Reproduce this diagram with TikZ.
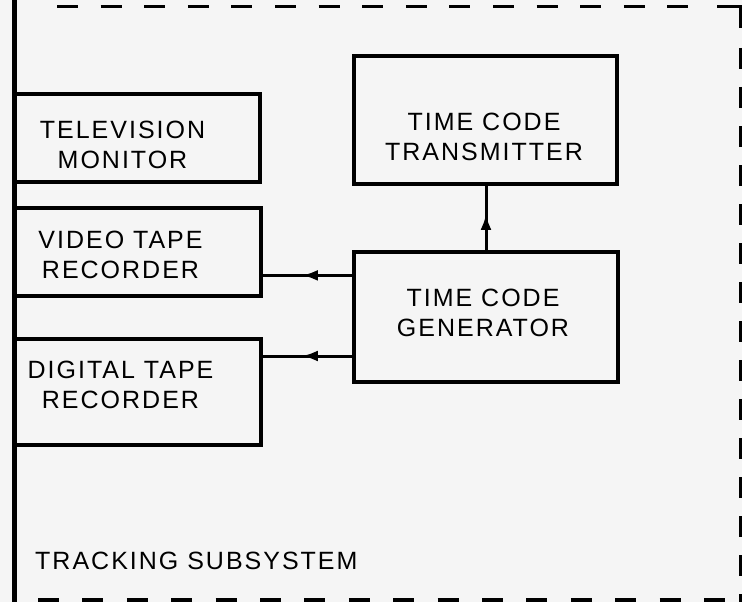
\documentclass[tikz,border=0pt]{standalone}
\usepackage{fontspec}
\setmainfont{Liberation Sans}[LetterSpace=8]
\usetikzlibrary{arrows.meta, calc}
\usetikzlibrary{decorations.markings}

\begin{document}
\begin{tikzpicture}[x=1pt, y=-1pt, >={Latex[length=16pt,width=11pt]},
	font=\fontsize{25}{30}\selectfont,
	box/.style={draw, line width=3.2pt, outer sep=0pt, inner sep=0pt},
	txt/.style={align=center, inner sep=0pt},
	flow/.style={line width=3pt, postaction={decorate},
		decoration={markings, mark=at position 0.56 with {\arrow{>}}}},
	frame/.style={line width=3pt, dash pattern=on 21pt off 22.6pt}]

% scanned sheet
\fill[black!4] (0,0) rectangle (742,602);
\useasboundingbox (0,0) rectangle (742,602);

% ================= Left: monitor and recorders =================
\node[box, minimum width=246pt, minimum height=88pt] (tvm) at (137,138) {};
\node[txt] (tvmtxt) at (122.5,144.5) {TELEVISION\\MONITOR};

\node[box, minimum width=247pt, minimum height=88pt] (vtr) at (137.5,252) {};
\node[txt] (vtrtxt) at (120.5,254.5) {VIDEO TAPE\\RECORDER};

\node[box, minimum width=247pt, minimum height=106pt] (dtr) at (137.5,392) {};
\node[txt] (dtrtxt) at (120.5,385) {DIGITAL TAPE\\RECORDER};

% ================= Right: time code units =================
\node[box, minimum width=263pt, minimum height=128pt] (tct) at (485.5,120) {};
\node[txt] (tcttxt) at (484,137) {TIME CODE\\TRANSMITTER};

\node[box, minimum width=264pt, minimum height=130pt] (tcg) at (486,317) {};
\node[txt] (tcgtxt) at (483,312.5) {TIME CODE\\GENERATOR};

% outputs of the generator
\coordinate (g1) at ($(tcg.north west)!0.18!(tcg.south west)$);
\coordinate (g2) at ($(tcg.north west)!0.8!(tcg.south west)$);

\draw[flow] (g1) -- (g1 -| vtr.east);
\draw[flow] (g2) -- (g2 -| dtr.east);
\draw[flow] (tcg.north) -- (tcg.north |- tct.south);

% ================= subsystem boundary =================
\draw[line width=5pt] (14,0) -- (14,602);
\draw[frame] (57,7) -- (700,7);
\draw[line width=3pt] (717,7) -- (740,7) -- (740,28);
\draw[frame, dash pattern=on 21pt off 18pt] (740,48) -- (740,602);
\draw[frame, line width=4pt, dash pattern=on 21pt off 23.4pt] (38,600) -- (725,600);

\node[anchor=west, inner sep=0pt] (tss) at (35,561) {TRACKING SUBSYSTEM};

\end{tikzpicture}
\end{document}
